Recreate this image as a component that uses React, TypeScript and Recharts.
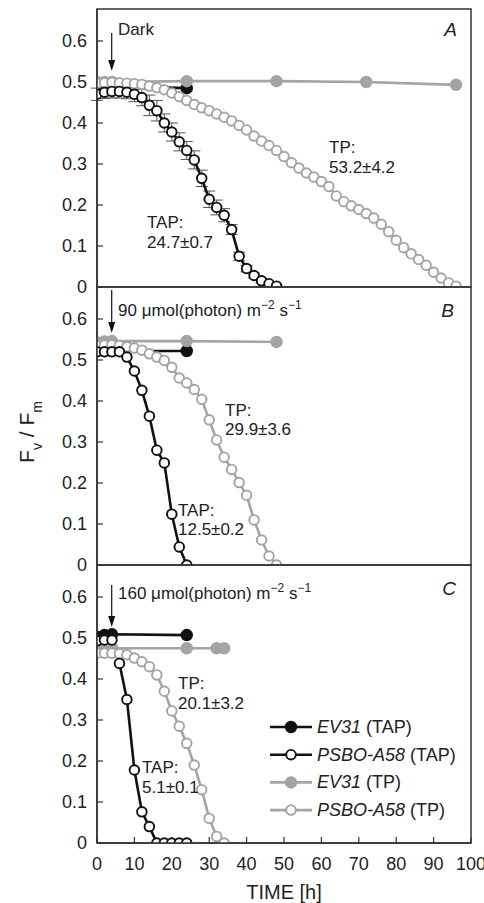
import { LineChart, Line, XAxis, YAxis, ErrorBar } from "recharts";

const BLACK = "#111";
const GRAY = "#a4a4a4";
const FONT = "'Liberation Sans', Arial, sans-serif";

const xTicks = [0, 10, 20, 30, 40, 50, 60, 70, 80, 90, 100];
const yTicks = [0, 0.1, 0.2, 0.3, 0.4, 0.5, 0.6];

// panel A: dark
const aEvTapT = [0, 2, 4, 24];
const aEvTapV = [0.49, 0.49, 0.49, 0.485];
const aEvTpT = [0, 2, 4, 24, 48, 72, 96];
const aEvTpV = [0.5, 0.5, 0.5, 0.502, 0.502, 0.5, 0.493];
const aPsTapT = [0, 2, 4, 6, 8, 10, 12, 14, 16, 18, 20, 22, 24, 26, 28, 30, 32, 34, 36, 38, 40, 42, 44, 46, 48];
const aPsTapV = [0.47, 0.475, 0.477, 0.477, 0.475, 0.47, 0.462, 0.443, 0.43, 0.4, 0.378, 0.354, 0.333, 0.31, 0.265, 0.214, 0.194, 0.175, 0.14, 0.075, 0.045, 0.028, 0.015, 0.008, 0.002];
const aPsTapErr = [0.015, 0.015, 0.016, 0.016, 0.016, 0.018, 0.02, 0.025, 0.025, 0.022, 0.022, 0.022, 0.022, 0.022, 0.02, 0.02, 0.018, 0.016, 0.012, 0.01, 0.008, 0.006, 0.005, 0.004, 0.002];
const aPsTpT = [0, 2, 4, 6, 8, 10, 12, 14, 16, 18, 20, 22, 24, 26, 28, 30, 32, 34, 36, 38, 40, 42, 44, 46, 48, 50, 52, 54, 56, 58, 60, 62, 64, 66, 68, 70, 72, 74, 76, 78, 80, 82, 84, 86, 88, 90, 92, 94, 96];
const aPsTpV = [0.497, 0.498, 0.499, 0.498, 0.497, 0.496, 0.494, 0.49, 0.486, 0.481, 0.473, 0.464, 0.455, 0.445, 0.437, 0.43, 0.422, 0.414, 0.405, 0.394, 0.383, 0.368, 0.356, 0.345, 0.333, 0.318, 0.303, 0.29, 0.278, 0.268, 0.257, 0.245, 0.222, 0.208, 0.198, 0.189, 0.179, 0.168, 0.153, 0.135, 0.114, 0.096, 0.081, 0.067, 0.053, 0.036, 0.022, 0.01, 0.002];

// panel B: 90 umol
const bEvTapT = [0, 2, 4, 24];
const bEvTapV = [0.522, 0.522, 0.522, 0.522];
const bEvTpT = [0, 2, 4, 24, 48];
const bEvTpV = [0.543, 0.545, 0.546, 0.546, 0.544];
const bPsTapT = [0, 2, 4, 6, 8, 10, 12, 14, 16, 18, 20, 22, 24];
const bPsTapV = [0.52, 0.52, 0.52, 0.52, 0.507, 0.473, 0.426, 0.363, 0.28, 0.249, 0.124, 0.044, 0];
const bPsTpT = [0, 2, 4, 6, 8, 10, 12, 14, 16, 18, 20, 22, 24, 26, 28, 30, 32, 34, 36, 38, 40, 42, 44, 46, 48];
const bPsTpV = [0.535, 0.536, 0.537, 0.535, 0.532, 0.529, 0.524, 0.515, 0.507, 0.499, 0.482, 0.456, 0.444, 0.428, 0.404, 0.354, 0.305, 0.263, 0.233, 0.201, 0.17, 0.11, 0.061, 0.022, 0];

// panel C: 160 umol
const cEvTapT = [0, 2, 4, 24];
const cEvTapV = [0.503, 0.507, 0.509, 0.507];
const cEvTpT = [0, 2, 4, 24, 32, 34];
const cEvTpV = [0.475, 0.475, 0.475, 0.475, 0.475, 0.475];
const cPsTapT = [0, 2, 4, 6, 8, 10, 12, 14, 16, 18, 20, 22, 24];
const cPsTapV = [0.493, 0.495, 0.495, 0.438, 0.35, 0.178, 0.076, 0.04, 0, 0, 0, 0, 0];
const cPsTpT = [0, 2, 4, 6, 8, 10, 12, 14, 16, 18, 20, 22, 24, 26, 28, 30, 32, 34];
const cPsTpV = [0.463, 0.463, 0.463, 0.462, 0.459, 0.451, 0.442, 0.43, 0.41, 0.37, 0.322, 0.285, 0.243, 0.19, 0.13, 0.06, 0.016, 0];

const zip = (t: number[], v: number[], e?: number[]) =>
  t.map((x, i) => ({ t: x, v: v[i], e: e ? e[i] : undefined }));

type Series = { data: any[]; color: string; open: boolean; err?: boolean };

const panels: Series[][] = [
  [
    { data: zip(aEvTapT, aEvTapV), color: BLACK, open: false },
    { data: zip(aEvTpT, aEvTpV), color: GRAY, open: false },
    { data: zip(aPsTpT, aPsTpV), color: GRAY, open: true },
    { data: zip(aPsTapT, aPsTapV, aPsTapErr), color: BLACK, open: true, err: true },
  ],
  [
    { data: zip(bEvTapT, bEvTapV), color: BLACK, open: false },
    { data: zip(bEvTpT, bEvTpV), color: GRAY, open: false },
    { data: zip(bPsTpT, bPsTpV), color: GRAY, open: true },
    { data: zip(bPsTapT, bPsTapV), color: BLACK, open: true },
  ],
  [
    { data: zip(cEvTapT, cEvTapV), color: BLACK, open: false },
    { data: zip(cEvTpT, cEvTpV), color: GRAY, open: false },
    { data: zip(cPsTpT, cPsTpV), color: GRAY, open: true },
    { data: zip(cPsTapT, cPsTapV), color: BLACK, open: true },
  ],
];

const PLOT_H = 278;
const PLOT_L = 97;
const PLOT_R = 471;
const tops = [9, 287, 565];
const OPEN_R = 4.8;
const FILL_R = 5.3;

function Panel({ series, last }: { series: Series[]; last: boolean }) {
  const bottom = last ? 30 : 14;
  return (
    <LineChart
      width={484}
      height={9 + PLOT_H + (last ? 30 : 0) + bottom}
      margin={{ top: 9, right: 484 - PLOT_R, bottom, left: 0 }}
      style={{ fontFamily: FONT }}
    >
      <XAxis
        type="number"
        dataKey="t"
        domain={[0, 100]}
        ticks={xTicks}
        interval={0}
        height={last ? 30 : 0}
        tickSize={-6}
        tickMargin={20}
        tick={last ? { fill: "#222", fontSize: 18 } : false}
        axisLine={{ stroke: "#333", strokeWidth: 1.5 }}
        tickLine={{ stroke: "#333", strokeWidth: 1.2 }}
        allowDataOverflow
      />
      <YAxis
        type="number"
        domain={[0, 0.678]}
        ticks={yTicks}
        interval={0}
        width={PLOT_L}
        tickSize={-6}
        tickMargin={16}
        tick={{ fill: "#222", fontSize: 18 }}
        axisLine={{ stroke: "#333", strokeWidth: 1.5 }}
        tickLine={{ stroke: "#333", strokeWidth: 1.2 }}
        allowDataOverflow
      />
      {series.map((s, i) => (
        <Line
          key={i}
          data={s.data}
          dataKey="v"
          type="linear"
          stroke={s.color}
          strokeWidth={2.6}
          dot={{ r: s.open ? OPEN_R : FILL_R, fill: s.open ? "#fff" : s.color, stroke: s.color, strokeWidth: 1.9 }}
          activeDot={false}
          isAnimationActive={false}
        >
          {s.err && <ErrorBar dataKey="e" width={6} stroke="#555" strokeWidth={1} direction="y" />}
        </Line>
      ))}
    </LineChart>
  );
}

function Arrow({ x, y1, y2 }: { x: number; y1: number; y2: number }) {
  return (
    <g>
      <line x1={x} y1={y1} x2={x} y2={y2 - 8} stroke="#111" strokeWidth={1.2} />
      <path d={`M${x - 3.5},${y2 - 11} L${x},${y2} L${x + 3.5},${y2 - 11} Z`} fill="#111" />
    </g>
  );
}

const Sup = ({ children }: { children: string }) => (
  <tspan baselineShift="super" fontSize={12}>{children}</tspan>
);

const legendRows = [
  { name: "EV31", medium: "(TAP)", color: BLACK, open: false },
  { name: "PSBO-A58", medium: "(TAP)", color: BLACK, open: true },
  { name: "EV31", medium: "(TP)", color: GRAY, open: false },
  { name: "PSBO-A58", medium: "(TP)", color: GRAY, open: true },
];

export default function App() {
  return (
    <div style={{ position: "relative", width: 484, height: 903, background: "#fff", fontFamily: FONT }}>
      <style>{"body{margin:0}"}</style>
      {panels.map((s, i) => (
        <div key={i} style={{ position: "absolute", left: 0, top: tops[i] - 9 }}>
          <Panel series={s} last={i === 2} />
        </div>
      ))}
      <svg
        width={484}
        height={903}
        style={{ position: "absolute", left: 0, top: 0, pointerEvents: "none", fontFamily: FONT }}
      >
        {tops.map((t) => (
          <rect key={t} x={PLOT_L} y={t} width={PLOT_R - PLOT_L} height={PLOT_H} fill="none" stroke="#333" strokeWidth={1.5} />
        ))}
        <g fill="#222" fontSize={17}>
          <text x={118} y={35}>Dark</text>
          <text x={118} y={316}>
            90 μmol(photon) m<Sup>−2</Sup> s<Sup>−1</Sup>
          </text>
          <text x={118} y={599}>
            160 μmol(photon) m<Sup>−2</Sup> s<Sup>−1</Sup>
          </text>
          <text x={457} y={36} fontSize={19} fontStyle="italic" textAnchor="end">A</text>
          <text x={454} y={317} fontSize={19} fontStyle="italic" textAnchor="end">B</text>
          <text x={456} y={595} fontSize={19} fontStyle="italic" textAnchor="end">C</text>

          <text x={329} y={153}>TP:</text>
          <text x={329} y={173}>53.2±4.2</text>
          <text x={147} y={228}>TAP:</text>
          <text x={147} y={248}>24.7±0.7</text>

          <text x={225} y={416}>TP:</text>
          <text x={225} y={435}>29.9±3.6</text>
          <text x={178} y={516}>TAP:</text>
          <text x={178} y={535}>12.5±0.2</text>

          <text x={178} y={689}>TP:</text>
          <text x={178} y={709}>20.1±3.2</text>
          <text x={142} y={773}>TAP:</text>
          <text x={142} y={793}>5.1±0.1</text>
        </g>
        <Arrow x={111.7} y1={33} y2={71} />
        <Arrow x={111.7} y1={290} y2={333} />
        <Arrow x={111.7} y1={585} y2={627} />

        <text transform="translate(34,432) rotate(-90)" textAnchor="middle" fontSize={21} fill="#222">
          F<tspan baselineShift="sub" fontSize={14}>v</tspan> / F<tspan baselineShift="sub" fontSize={14}>m</tspan>
        </text>
        <text x={284} y={899} textAnchor="middle" fontSize={20} fill="#222">TIME [h]</text>

        {legendRows.map((r, i) => {
          const y = 727 + i * 27.7;
          return (
            <g key={i}>
              <line x1={270} x2={312} y1={y} y2={y} stroke={r.color} strokeWidth={2.6} />
              <circle cx={291} cy={y} r={r.open ? OPEN_R : FILL_R} fill={r.open ? "#fff" : r.color} stroke={r.color} strokeWidth={1.9} />
              <text x={317} y={y + 6} fontSize={18} fill="#222">
                <tspan fontStyle="italic">{r.name}</tspan> {r.medium}
              </text>
            </g>
          );
        })}
      </svg>
    </div>
  );
}
